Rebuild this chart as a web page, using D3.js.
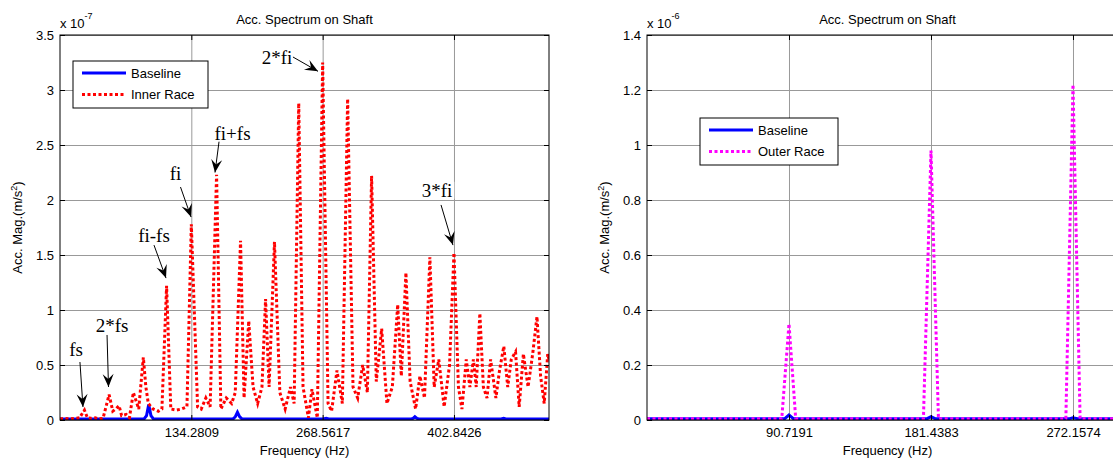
<!DOCTYPE html>
<html>
<head>
<meta charset="utf-8">
<script src="https://cdn.jsdelivr.net/npm/d3@7"></script>
<style>
  body { margin: 0; background: #fff; }
  svg text { font-family: "Liberation Sans", Arial, sans-serif; }
  .ann { font-family: "Liberation Serif", "Times New Roman", serif; font-variant-ligatures: none; }
</style>
</head>
<body>
<svg id="chart" width="1113" height="462"></svg>
<script>
// --- Données (fréquence en Hz, amplitude en unités de l'exposant) ---

// Panneau gauche : x 10^-7
const innerRace = [
  [0,0.01],[5,0.015],[10,0.01],[15,0.015],[20,0.02],[25,0.09],[28,0.02],[32,0.015],[36,0.02],[40,0.01],
  [44,0.015],[50.2,0.23],[54,0.08],[57,0.1],[60.4,0.13],[63,0.04],[67.7,0.05],[71,0.02],[75,0.25],[80.5,0.1],
  [85.2,0.57],[87.8,0.3],[90.3,0.15],[95.1,0.1],[100.5,0.08],[104.2,0.1],[109,1.22],[113.3,0.1],[118.8,0.09],[124.3,0.1],
  [129.8,0.12],[134.28,1.78],[140.7,0.12],[144.4,0.1],[149.1,0.2],[153.5,0.12],[160.1,2.23],[164.5,0.1],[170,0.2],[175.5,0.15],
  [179.2,0.25],[184.6,1.63],[188.2,0.2],[193,0.9],[197.4,0.3],[202.1,0.15],[206.5,0.3],[210.2,1.10],[213.8,0.3],[219.3,1.62],
  [224.8,0.25],[230.2,0.1],[235.7,0.3],[239.4,0.15],[244.1,2.88],[248.5,0.3],[254,0.02],[257.6,0.28],[263.1,0.02],[268.56,3.25],
  [274.1,0.15],[277.7,0.08],[283.2,0.45],[288.7,0.15],[294.1,2.92],[299.6,0.3],[304.4,0.2],[309.5,0.5],[314.3,0.25],[318.6,2.22],
  [323.4,0.35],[328.9,0.83],[334.3,0.15],[339.8,0.3],[345.3,1.05],[349,0.4],[353.7,1.34],[358,0.35],[363.6,0.1],[368,0.4],
  [372.7,0.2],[378.2,1.48],[382.6,0.3],[387.3,0.55],[392.8,0.12],[398.3,0.5],[402.84,1.52],[407.4,0.3],[411,0.1],[415.4,0.55],
  [419.1,0.3],[422.7,0.55],[425.6,0.3],[429.3,0.97],[432.9,0.3],[436.6,0.2],[440.3,0.55],[445.7,0.2],[449.4,0.45],[453.8,0.67],
  [457.8,0.3],[461.4,0.55],[465.8,0.62],[469.5,0.12],[473.8,0.6],[478.6,0.3],[483.3,0.6],[487.7,0.94],[491.4,0.4],[495.1,0.15],
  [498.7,0.6],[500,0.55]
];
const baselineLeft = [
  [0,0.01],[86,0.01],[88.5,0.04],[90.72,0.14],[93,0.04],[95.5,0.01],[177,0.01],[179.3,0.03],[181.44,0.07],[183.6,0.03],
  [186,0.01],[269,0.01],[272.16,0.015],[275,0.01],[359,0.01],[361,0.015],[362.88,0.03],[365,0.015],[367,0.01],[451,0.01],
  [453.6,0.015],[456,0.01],[500,0.01]
];
const leftXTicks = [134.2809, 268.5617, 402.8426];
const leftXTickLabels = ["134.2809", "268.5617", "402.8426"];
const leftYTicks = [0, 0.5, 1, 1.5, 2, 2.5, 3, 3.5];

// Annotations : texte (x,y), flèche de (x,y) vers (x,y)
const annLabels = ["fs", "2*fs", "fi-fs", "fi", "fi+fs", "2*fi", "3*fi"];
const annText  = [[16.4,0.645],[53.2,0.864],[96.1,1.68],[118.1,2.24],[176.4,2.61],[221.9,3.30],[385.5,2.09]];
const annFrom  = [[20.4,0.527],[48.1,0.773],[96.1,1.59],[123.2,2.118],[162.6,2.53],[238.2,3.30],[389.6,1.955]];
const annTo    = [[23.5,0.118],[49.6,0.30],[108.4,1.29],[134,1.845],[158.5,2.25],[263.8,3.17],[401.8,1.59]];

// Panneau droit : x 10^-6
const outerRace = [
  [0,0.005],[86.1,0.005],[90.72,0.35],[95.0,0.005],[176.6,0.005],[181.44,0.98],[186.2,0.005],
  [267.6,0.005],[272.16,1.22],[276.7,0.005],[307.3,0.005]
];
const baselineRight = [
  [0,0.005],[88,0.005],[90.72,0.018],[93.5,0.005],[179,0.005],[181.44,0.012],[184,0.005],
  [270,0.005],[272.16,0.008],[275,0.005],[307.3,0.005]
];
const rightXTicks = [90.7191, 181.4383, 272.1574];
const rightXTickLabels = ["90.7191", "181.4383", "272.1574"];
const rightYTicks = [0, 0.2, 0.4, 0.6, 0.8, 1, 1.2, 1.4];

const svg = d3.select("#chart");

function drawPanel(o) {
  const g = svg.append("g");
  const x = d3.scaleLinear().domain(o.xDomain).range([o.left, o.right]);
  const y = d3.scaleLinear().domain(o.yDomain).range([o.bottom, o.top]);
  const w = o.right - o.left, h = o.bottom - o.top;

  // Grille
  const gx = g.append("g").attr("transform", `translate(0,${o.bottom})`)
    .call(d3.axisBottom(x).tickValues(o.xTicks).tickSize(-h).tickFormat(""));
  const gy = g.append("g").attr("transform", `translate(${o.left},0)`)
    .call(d3.axisLeft(y).tickValues(o.yTicks).tickSize(-w).tickFormat(""));
  [gx, gy].forEach(s => {
    s.select(".domain").remove();
    s.selectAll("line").attr("stroke", "#999").attr("stroke-width", 1);
  });

  // Courbes
  g.append("clipPath").attr("id", o.id + "-clip")
    .append("rect").attr("x", o.left).attr("y", o.top).attr("width", w).attr("height", h);
  const line = d3.line().x(d => x(d[0])).y(d => y(d[1]));
  const plot = g.append("g").attr("clip-path", `url(#${o.id}-clip)`);
  o.series.forEach(s => {
    plot.append("path").datum(s.data)
      .attr("d", line)
      .attr("fill", "none")
      .attr("stroke", s.color)
      .attr("stroke-width", 3)
      .attr("stroke-linejoin", "miter")
      .attr("stroke-dasharray", s.dash || null);
  });

  // Cadre + axes (ticks vers l'intérieur)
  g.append("rect").attr("x", o.left).attr("y", o.top).attr("width", w).attr("height", h)
    .attr("fill", "none").attr("stroke", "#000").attr("stroke-width", 1);

  const axB = g.append("g").attr("transform", `translate(0,${o.bottom})`)
    .call(d3.axisBottom(x).tickValues(o.xTicks).tickFormat((d, i) => o.xLabels[i])
      .tickSizeInner(-5).tickSizeOuter(0).tickPadding(8));
  const axT = g.append("g").attr("transform", `translate(0,${o.top})`)
    .call(d3.axisTop(x).tickValues(o.xTicks).tickFormat("").tickSizeInner(-5).tickSizeOuter(0));
  const axL = g.append("g").attr("transform", `translate(${o.left},0)`)
    .call(d3.axisLeft(y).tickValues(o.yTicks).tickFormat(d => String(d))
      .tickSizeInner(-5).tickSizeOuter(0).tickPadding(6));
  const axR = g.append("g").attr("transform", `translate(${o.right},0)`)
    .call(d3.axisRight(y).tickValues(o.yTicks).tickFormat("").tickSizeInner(-5).tickSizeOuter(0));
  [axB, axT, axL, axR].forEach(a => {
    a.select(".domain").remove();
    a.selectAll("line").attr("stroke", "#000");
    a.selectAll("text").attr("font-size", 13).attr("fill", "#000")
      .attr("font-family", "Liberation Sans, Arial, sans-serif");
  });

  const cx = (o.left + o.right) / 2;
  g.append("text").attr("x", cx).attr("y", 24).attr("text-anchor", "middle")
    .attr("font-size", 13).text("Acc. Spectrum on Shaft");

  const ex = g.append("text").attr("x", o.left).attr("y", 28).attr("font-size", 13);
  ex.append("tspan").text("x 10");
  ex.append("tspan").attr("dy", -9).attr("font-size", 9).text(o.exponent);

  g.append("text").attr("x", cx).attr("y", 455).attr("text-anchor", "middle")
    .attr("font-size", 13).text("Frequency (Hz)");

  const yl = g.append("text")
    .attr("transform", `translate(${o.left - 38},${(o.top + o.bottom) / 2}) rotate(-90)`)
    .attr("text-anchor", "middle").attr("font-size", 13);
  yl.append("tspan").text("Acc. Mag.(m/s");
  yl.append("tspan").attr("dy", -5).attr("font-size", 9).text("2");
  yl.append("tspan").attr("dy", 5).text(")");

  // Légende
  const L = o.legend;
  const lg = g.append("g");
  lg.append("rect").attr("x", L.x).attr("y", L.y).attr("width", L.w).attr("height", 47)
    .attr("fill", "#fff").attr("stroke", "#000").attr("stroke-width", 1);
  o.series.forEach((s, i) => {
    const yy = L.y + 12 + i * 21.5;
    lg.append("line").attr("x1", L.x + 9).attr("x2", L.x + 53).attr("y1", yy).attr("y2", yy)
      .attr("stroke", s.color).attr("stroke-width", 3).attr("stroke-dasharray", s.dash || null);
    lg.append("text").attr("x", L.x + 58).attr("y", yy).attr("dy", "0.35em")
      .attr("font-size", 13).text(s.name);
  });

  return { g, x, y };
}

const left = drawPanel({
  id: "left", left: 60, right: 549, top: 35, bottom: 420,
  xDomain: [0, 500], yDomain: [0, 3.5],
  xTicks: leftXTicks, xLabels: leftXTickLabels, yTicks: leftYTicks,
  exponent: "-7",
  series: [
    { name: "Baseline", data: baselineLeft, color: "#0000ff" },
    { name: "Inner Race", data: innerRace, color: "#ff0000", dash: "3,2.5" }
  ],
  legend: { x: 73, y: 61, w: 135 }
});

drawPanel({
  id: "right", left: 647, right: 1128, top: 35, bottom: 420,
  xDomain: [0, 307.3], yDomain: [0, 1.4],
  xTicks: rightXTicks, xLabels: rightXTickLabels, yTicks: rightYTicks,
  exponent: "-6",
  series: [
    { name: "Baseline", data: baselineRight, color: "#0000ff" },
    { name: "Outer Race", data: outerRace, color: "#ff00ff", dash: "3,2.5" }
  ],
  legend: { x: 700, y: 118, w: 138 }
});

// Annotations (flèches noires)
const ag = left.g.append("g");
annLabels.forEach((lab, i) => {
  const tx = left.x(annText[i][0]), ty = left.y(annText[i][1]);
  const t = ag.append("text").attr("class", "ann")
    .attr("x", tx).attr("y", ty).attr("dy", "0.35em")
    .attr("text-anchor", "middle").attr("font-size", 19).text(lab);
  const bb = t.node().getBBox();
  ag.insert("rect", "text").attr("x", bb.x - 2).attr("y", bb.y + 2)
    .attr("width", bb.width + 4).attr("height", bb.height - 4).attr("fill", "#fff");

  const x1 = left.x(annFrom[i][0]), y1 = left.y(annFrom[i][1]);
  const x2 = left.x(annTo[i][0]), y2 = left.y(annTo[i][1]);
  const ang = Math.atan2(y2 - y1, x2 - x1) * 180 / Math.PI;
  ag.append("line").attr("x1", x1).attr("y1", y1).attr("x2", x2).attr("y2", y2)
    .attr("stroke", "#000").attr("stroke-width", 1);
  ag.append("path").attr("d", "M0,0 L-13,-5.5 L-8,0 L-13,5.5 Z")
    .attr("transform", `translate(${x2},${y2}) rotate(${ang})`)
    .attr("fill", "#000");
});
</script>
</body>
</html>
